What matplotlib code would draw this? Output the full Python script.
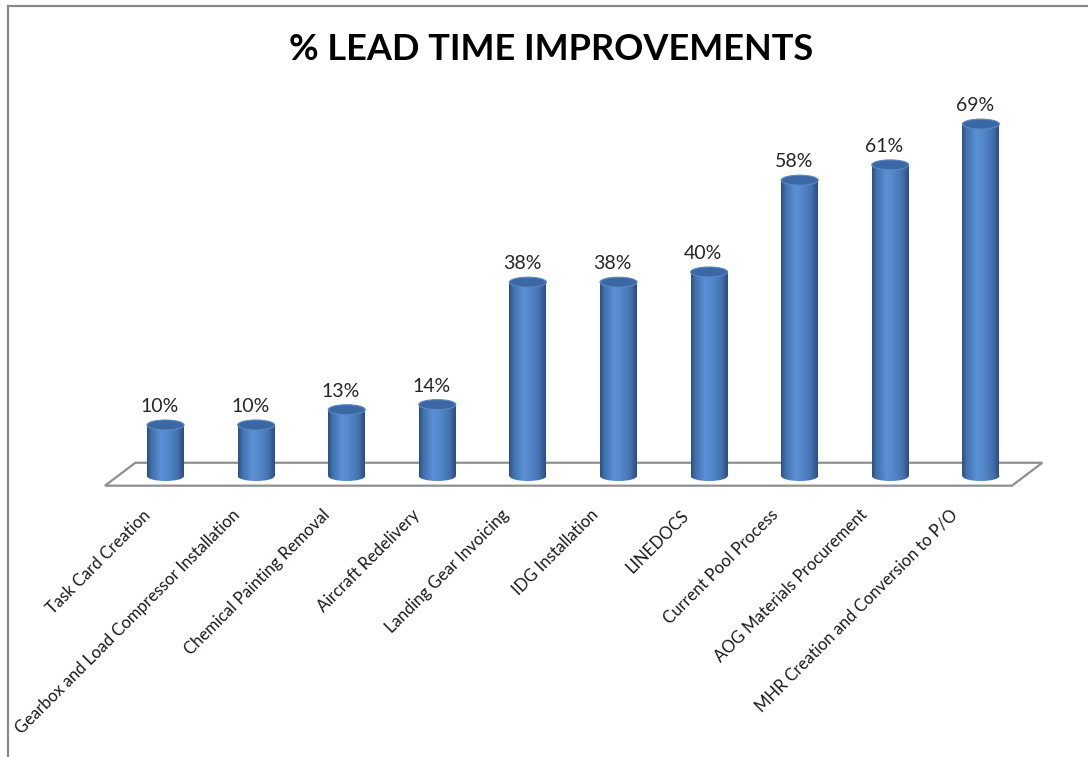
import numpy as np
import matplotlib
matplotlib.use("Agg")
import matplotlib.pyplot as plt
from matplotlib.patches import Ellipse, Polygon
from matplotlib.colors import LinearSegmentedColormap
from matplotlib.lines import Line2D
import matplotlib.transforms as mtransforms

# ---------------- data ----------------
categories = [
    "Task Card Creation",
    "Gearbox and Load Compressor Installation",
    "Chemical Painting Removal",
    "Aircraft Redelivery",
    "Landing Gear Invoicing",
    "IDG Installation",
    "LINEDOCS",
    "Current Pool Process",
    "AOG Materials Procurement",
    "MHR Creation and Conversion to P/O",
]
values = [10, 10, 13, 14, 38, 38, 40, 58, 61, 69]
value_labels = [f"{v}%" for v in values]
title = "% LEAD TIME IMPROVEMENTS"

# ---------------- style ----------------
plt.rcParams["font.family"] = ["Lato", "DejaVu Sans"]
W, H = 1088, 757
fig = plt.figure(figsize=(W / 100, H / 100), dpi=100)
fig.patch.set_facecolor("white")

# axes spans top 500 px of figure
ax = fig.add_axes([0, 1 - 500 / H, 1, 500 / H])
x0_px, step_px = 165.5, 90.6
base_px, per_unit_px = 476.0, 5.1
ax.set_xlim(-x0_px / step_px, (W - x0_px) / step_px)
ax.set_ylim((base_px - 500) / per_unit_px, base_px / per_unit_px)
for s in ax.spines.values():
    s.set_visible(False)
ax.set_yticks([])
ax.patch.set_alpha(0)

n = len(categories)
xs = np.arange(n)
bw = 37 / step_px           # bar width in data units
eh = 10 / per_unit_px       # ellipse height in data units

# floor (perspective plane)
depth_dx, depth_dy = 0.335, 4.5
fl, fr, fy = -0.668, n - 1 + 0.343, -1.9
floor = Polygon([(fl, fy), (fl + depth_dx, fy + depth_dy),
                 (fr + depth_dx, fy + depth_dy), (fr, fy)],
                closed=True, facecolor="white", edgecolor="#8f8f8f",
                lw=1.6, zorder=1)
ax.add_patch(floor)

cmap = LinearSegmentedColormap.from_list(
    "cyl",
    [(0.0, "#2c4e80"), (0.12, "#4170ad"), (0.38, "#5a90d4"),
     (0.55, "#5689cc"), (0.82, "#4473b0"), (1.0, "#2b4d7e")])
grad = np.linspace(0, 1, 256)[None, :]

bars = ax.bar(xs, values, width=bw, color="none", edgecolor="none", zorder=3)
for rect, lbl in zip(bars, value_labels):
    x = rect.get_x() + rect.get_width() / 2
    h = rect.get_height()
    # body
    im = ax.imshow(grad, cmap=cmap, aspect="auto",
                   extent=[x - bw / 2, x + bw / 2, 0, h], zorder=3,
                   interpolation="bilinear")
    im.set_clip_path(rect)
    # bottom ellipse
    be = Ellipse((x, 0), bw, eh, facecolor="none", edgecolor="none", zorder=3)
    ax.add_patch(be)
    im2 = ax.imshow(grad, cmap=cmap, aspect="auto",
                    extent=[x - bw / 2, x + bw / 2, -eh, eh], zorder=3,
                    interpolation="bilinear")
    im2.set_clip_path(be)
    # top ellipse
    te = Ellipse((x, h), bw, eh, facecolor="#3b68a4", edgecolor="#5a88c6",
                 lw=0.8, zorder=4)
    ax.add_patch(te)
    ax.annotate(lbl, xy=(x, h), xytext=(-6, 10), textcoords="offset pixels",
                ha="center", va="bottom", fontsize=14, color="#262626",
                zorder=5)

ax.set_ylim(ax.get_ylim())
ax.set_xlim(ax.get_xlim())

# category labels (rotated)
ax.set_xticks(xs)
ax.set_xticklabels(categories, rotation=45, ha="right", va="top",
                   rotation_mode="anchor", fontsize=12, color="#1a1a1a")
ax.tick_params(axis="x", length=0, pad=5)
for i, lab in enumerate(ax.get_xticklabels()):
    off = mtransforms.ScaledTranslation((-23.5 - 0.9 * i) / 100, 0, fig.dpi_scale_trans)
    lab.set_transform(lab.get_transform() + off)

# title
fig.text(551 / W, 1 - 49 / H, title, ha="center", va="center",
         fontsize=26, fontweight="bold", color="black")

# chart border (left and top visible)
bc = "#8a8a8a"
fig.add_artist(Line2D([8 / W, 8 / W], [0, 1 - 6 / H], transform=fig.transFigure,
                      color=bc, lw=1.6))
fig.add_artist(Line2D([8 / W, 1], [1 - 6 / H, 1 - 6 / H], transform=fig.transFigure,
                      color=bc, lw=1.6))

fig.savefig("out.png", dpi=100, facecolor="white")
